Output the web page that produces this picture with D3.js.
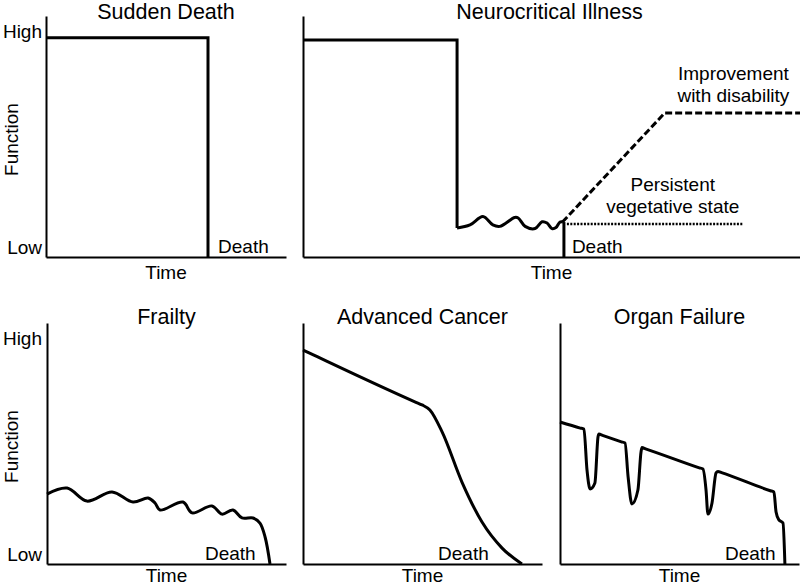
<!DOCTYPE html>
<html>
<head>
<meta charset="utf-8">
<script src="https://cdn.jsdelivr.net/npm/d3@7"></script>
<style>
  html, body { margin: 0; padding: 0; background: #fff; }
  svg { display: block; }
  text { font-family: "Liberation Sans", Arial, sans-serif; fill: #000; }
</style>
</head>
<body>
<svg id="chart" width="800" height="587"></svg>
<script>
// ---------------- data (time 0-100, function 0-100) ----------------
const panelTitles = ["Sudden Death", "Neurocritical Illness", "Frailty", "Advanced Cancer", "Organ Failure"];
const yTickLabels = ["High", "Low"];
const xAxisLabel = "Time";
const yAxisLabel = "Function";
const deathLabel = "Death";
const improvementLabel = ["Improvement", "with disability"];
const vegetativeLabel = ["Persistent", "vegetative state"];

const suddenDeath = [[0, 91], [67.5, 91], [67.5, 0]];

const neuroDecline = [[0, 90], [31, 90], [31, 12]];
const neuroFluctuation = [[31, 12], [33.6, 13.3], [36.2, 16.8], [38.2, 13.3], [39.6, 12.7], [42.6, 16.4],
  [43.3, 16.2], [44.7, 12.7], [46.7, 11.8], [48.1, 14.6], [49.1, 14.1], [50.1, 11.8], [50.9, 12.2],
  [51.7, 14.5], [52.3, 14.5]];
const neuroDeath = [[52.5, 14.5], [52.5, 0]];
const neuroImprovement = [[52.2, 14.5], [72.8, 59.8], [100, 59.8]];
const neuroVegetative = [[53.1, 13.7], [88.5, 13.7]];

const frailty = [[0, 29], [8.4, 31.5], [16.7, 26.1], [27.2, 29.9], [36, 25.7], [42.3, 27.4], [45.2, 25.3],
  [47.3, 22.4], [56.9, 25.7], [60.7, 21.2], [69, 24.1], [73.2, 20.7], [77.8, 22.4], [81.6, 19.1],
  [86.2, 19.1], [89.1, 17], [91.3, 11], [93.3, 0]];

const advancedCancer = [[0, 88.8], [3, 87.4], [47.5, 67], [49.8, 66], [53.1, 63.9], [58.2, 54.8], [66.5, 34],
  [74.9, 17.4], [83.3, 6.6], [91.6, 0]];

const organFailure = [[0, 58.9], [8.5, 56.4], [10, 56], [11.3, 39], [12.6, 31.1], [14.6, 33.6], [15.9, 52.7],
  [16.3, 53.9], [17.8, 53.4], [25.7, 50.7], [27.2, 50.2], [28.5, 36.1], [30.1, 24.9], [32.6, 30.7],
  [33.9, 46.5], [34.3, 48.3], [35.8, 47.8], [58.3, 39.9], [59.8, 39.4], [61.1, 30.7], [61.9, 20.7],
  [63.6, 25.3], [65.3, 37.8], [66.1, 38.4], [67.6, 37.9], [88, 30.4], [89.5, 29.9], [90.4, 21.6],
  [91.6, 18.3], [93.3, 17], [94.1, 0]];

// ---------------- layout ----------------
const svg = d3.select("#chart");

const panels = [
  { title: 0, left: 46, right: 286, top: 16, bottom: 257, yLabels: true, deathX: 71.7,
    series: [{ data: suddenDeath, curve: d3.curveLinear }] },
  { title: 1, left: 303, right: 800, top: 16, bottom: 257, yLabels: false, deathX: 54.1,
    series: [
      { data: neuroDecline, curve: d3.curveLinear },
      { data: neuroFluctuation, curve: d3.curveCatmullRom },
      { data: neuroDeath, curve: d3.curveLinear },
      { data: neuroImprovement, curve: d3.curveLinear, dash: "7,3" },
      { data: neuroVegetative, curve: d3.curveLinear, dash: "2,1.4", width: 2.4 }
    ] },
  { title: 2, left: 47, right: 286, top: 323, bottom: 564, yLabels: true, deathX: 66.1,
    series: [{ data: frailty, curve: d3.curveCatmullRom }] },
  { title: 3, left: 303, right: 542, top: 323, bottom: 564, yLabels: false, deathX: 56.5,
    series: [{ data: advancedCancer, curve: d3.curveMonotoneX }] },
  { title: 4, left: 560, right: 799, top: 323, bottom: 564, yLabels: false, deathX: 69.0,
    series: [{ data: organFailure, curve: d3.curveMonotoneX }] }
];

panels.forEach(p => {
  const x = d3.scaleLinear().domain([0, 100]).range([p.left, p.right]);
  const y = d3.scaleLinear().domain([0, 100]).range([p.bottom, p.top]);
  const g = svg.append("g");

  // axes (domain lines only)
  g.append("g").attr("transform", `translate(${p.left},0)`)
    .call(d3.axisLeft(y).ticks(0).tickSizeOuter(0))
    .call(s => s.select(".domain").attr("stroke", "#000").attr("stroke-width", 2));
  g.append("g").attr("transform", `translate(0,${p.bottom})`)
    .call(d3.axisBottom(x).ticks(0).tickSizeOuter(0))
    .call(s => s.select(".domain").attr("stroke", "#000").attr("stroke-width", 2));

  // title
  g.append("text").attr("x", (p.left + p.right) / 2 + (p.title === 1 ? -2 : 0))
    .attr("y", p.top + (p.top < 100 ? 3 : 1))
    .attr("text-anchor", "middle").attr("font-size", 21.5).text(panelTitles[p.title]);

  // Time label
  g.append("text").attr("x", (p.left + p.right) / 2).attr("y", Math.min(p.bottom + 22, 582))
    .attr("text-anchor", "middle").attr("font-size", 19).text(xAxisLabel);

  // Death label
  g.append("text").attr("x", x(p.deathX)).attr("y", p.bottom - 4)
    .attr("text-anchor", "start").attr("font-size", 19).text(deathLabel);

  if (p.yLabels) {
    g.append("text").attr("x", 42).attr("y", p.top + 22)
      .attr("text-anchor", "end").attr("font-size", 19).text(yTickLabels[0]);
    g.append("text").attr("x", 42).attr("y", p.bottom - 3)
      .attr("text-anchor", "end").attr("font-size", 19).text(yTickLabels[1]);
    g.append("text")
      .attr("transform", `translate(17.5,${(p.top + p.bottom) / 2 + 3}) rotate(-90)`)
      .attr("text-anchor", "middle").attr("font-size", 19).text(yAxisLabel);
  }

  p.series.forEach(s => {
    const line = d3.line().x(d => x(d[0])).y(d => y(d[1])).curve(s.curve);
    g.append("path").datum(s.data)
      .attr("d", line)
      .attr("fill", "none")
      .attr("stroke", "#000")
      .attr("stroke-width", s.width || 3)
      .attr("stroke-dasharray", s.dash || null);
  });

  if (p.title === 1) {
    improvementLabel.forEach((t, i) => {
      g.append("text").attr("x", x(86.6)).attr("y", 80 + i * 22)
        .attr("text-anchor", "middle").attr("font-size", 19).text(t);
    });
    vegetativeLabel.forEach((t, i) => {
      g.append("text").attr("x", x(74.4)).attr("y", 191 + i * 22)
        .attr("text-anchor", "middle").attr("font-size", 19).text(t);
    });
  }
});
</script>
</body>
</html>
